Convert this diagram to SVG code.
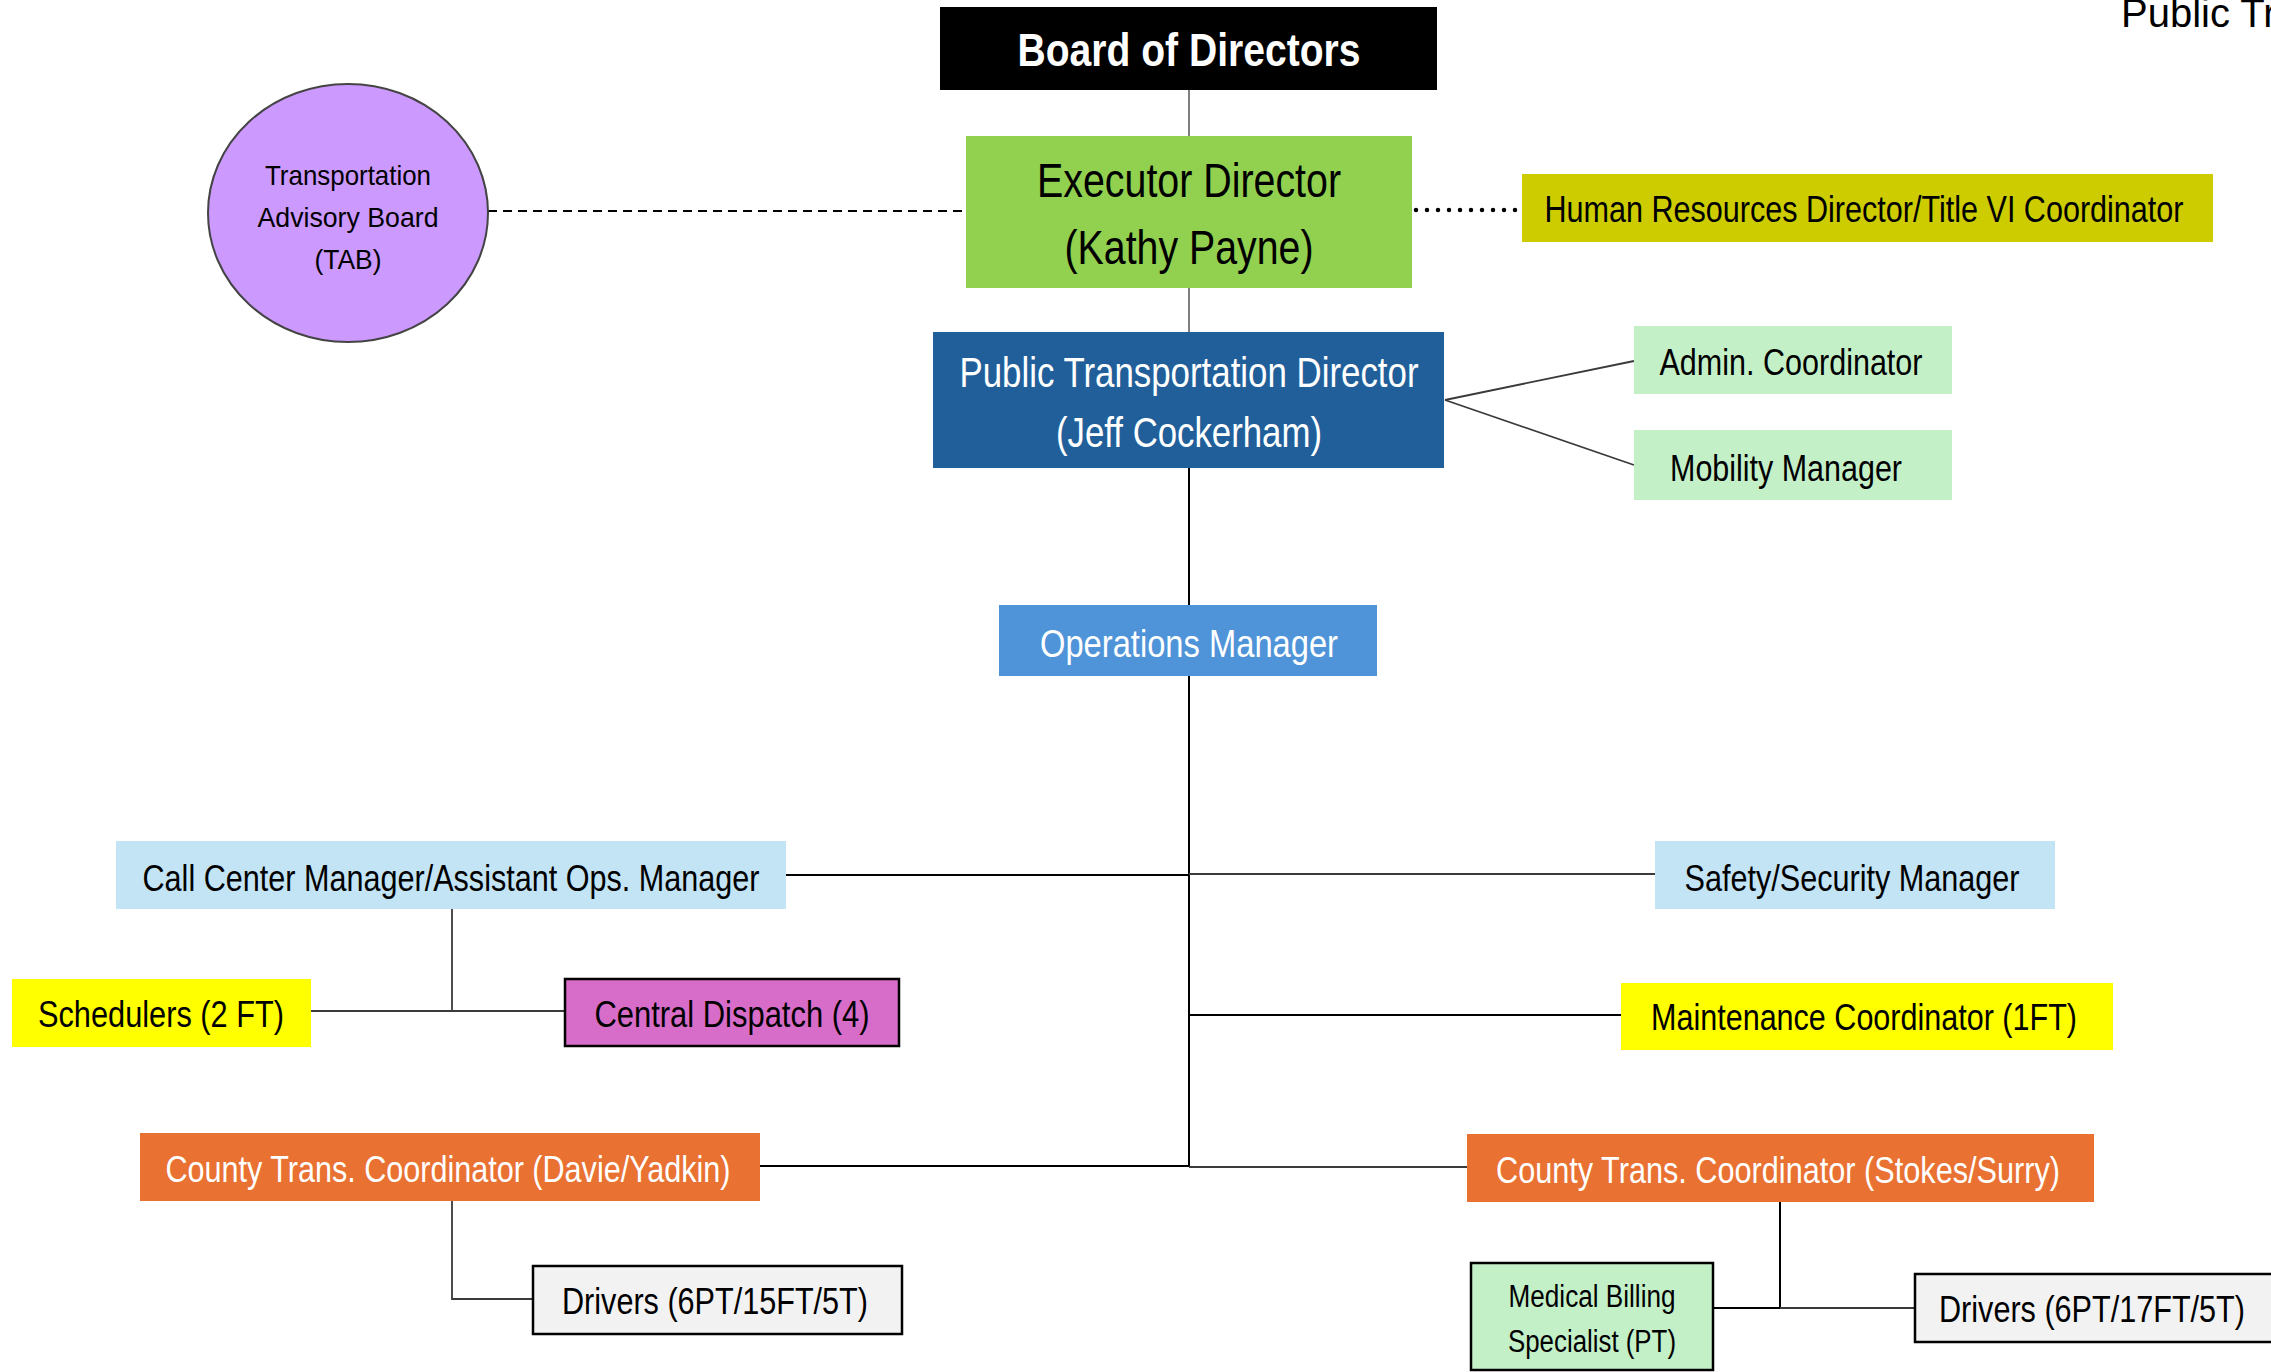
<svg xmlns="http://www.w3.org/2000/svg" width="2271" height="1372" viewBox="0 0 2271 1372">
<style>
text{font-family:"Liberation Sans Narrow","Liberation Sans",Arial,sans-serif;text-anchor:middle;}
.t37{font-size:37px;fill:#000;}
.w37{font-size:37px;fill:#fff;}
.ln{fill:none;stroke:#000;stroke-width:2;}
.lg{fill:none;stroke:#7f7f7f;stroke-width:2;}
.ld{fill:none;stroke:#3a3a3a;stroke-width:1.8;}
.bx{stroke:#000;stroke-width:2.5;}
</style>
<rect width="2271" height="1372" fill="#fff"/>
<g id="connectors">
<path class="lg" d="M1189 90V136"/>
<path class="lg" d="M1189 288V332"/>
<path class="ln" d="M1189 468V605"/>
<path class="ln" d="M1189 676V1167" stroke-width="2.5"/>
<path class="ln" d="M786 875H1189"/>
<path class="ld" d="M1189 874H1655" stroke="#6a6a6a"/>
<path class="ln" d="M1189 1015H1621"/>
<path class="ln" d="M760 1166H1189"/>
<path class="ld" d="M1189 1167H1467"/>
<path class="ld" d="M1445 400L1634 361"/>
<path class="ld" d="M1445 400L1634 465"/>
<path class="ld" d="M452 909V1011"/>
<path class="ld" d="M311 1011H565" stroke="#555"/>
<path class="ld" d="M452 1201V1299H533" stroke="#555"/>
<path class="ln" d="M1780 1202V1308M1713 1308H1780"/>
<path class="ld" d="M1780 1308H1915" stroke="#777" stroke-width="2.5"/>
<path class="ln" d="M488 211H966" stroke-dasharray="9 6"/>
<path d="M1416 210H1522" fill="none" stroke="#000" stroke-width="4.5" stroke-linecap="round" stroke-dasharray="0 11"/>
</g>
<g id="title"><text x="2121" y="27" font-size="40" style="text-anchor:start;font-family:'Liberation Sans',Arial,sans-serif">Public Tr</text></g>
<g id="board"><rect x="940" y="7" width="497" height="83" fill="#000"/><text x="1189" y="66" font-size="47" font-weight="bold" fill="#fff" textLength="343" lengthAdjust="spacingAndGlyphs">Board of Directors</text></g>
<g id="tab"><ellipse cx="348" cy="213" rx="140" ry="129" fill="#CC99FF" stroke="#444" stroke-width="2"/>
<text x="348" y="185" font-size="28" style="font-family:'Liberation Sans',Arial,sans-serif" textLength="166" lengthAdjust="spacingAndGlyphs">Transportation</text>
<text x="348" y="227" font-size="28" style="font-family:'Liberation Sans',Arial,sans-serif" textLength="181" lengthAdjust="spacingAndGlyphs">Advisory Board</text>
<text x="348" y="269" font-size="28" style="font-family:'Liberation Sans',Arial,sans-serif" textLength="67" lengthAdjust="spacingAndGlyphs">(TAB)</text></g>
<g id="exec"><rect x="966" y="136" width="446" height="152" fill="#92D050"/>
<text x="1189" y="197" font-size="48" textLength="304" lengthAdjust="spacingAndGlyphs">Executor Director</text>
<text x="1189" y="264" font-size="48" textLength="249" lengthAdjust="spacingAndGlyphs">(Kathy Payne)</text></g>
<g id="hr"><rect x="1522" y="174" width="691" height="68" fill="#CCCC00"/><text x="1864" y="222" class="t37" textLength="639" lengthAdjust="spacingAndGlyphs">Human Resources Director/Title VI Coordinator</text></g>
<g id="ptd"><rect x="933" y="332" width="511" height="136" fill="#215F9A"/>
<text x="1189" y="387" font-size="42" fill="#fff" textLength="459" lengthAdjust="spacingAndGlyphs">Public Transportation Director</text>
<text x="1189" y="447" font-size="42" fill="#fff" textLength="266" lengthAdjust="spacingAndGlyphs">(Jeff Cockerham)</text></g>
<g id="admin"><rect x="1634" y="326" width="318" height="68" fill="#C4F0C8"/><text x="1791" y="375" class="t37" textLength="263" lengthAdjust="spacingAndGlyphs">Admin. Coordinator</text></g>
<g id="mobility"><rect x="1634" y="430" width="318" height="70" fill="#C4F0C8"/><text x="1786" y="481" class="t37" textLength="232" lengthAdjust="spacingAndGlyphs">Mobility Manager</text></g>
<g id="ops"><rect x="999" y="605" width="378" height="71" fill="#4F94D8"/><text x="1189" y="657" font-size="38" fill="#fff" textLength="298" lengthAdjust="spacingAndGlyphs">Operations Manager</text></g>
<g id="callcenter"><rect x="116" y="841" width="670" height="68" fill="#C3E4F4"/><text x="451" y="891" class="t37" textLength="617" lengthAdjust="spacingAndGlyphs">Call Center Manager/Assistant Ops. Manager</text></g>
<g id="safety"><rect x="1655" y="841" width="400" height="68" fill="#C3E4F4"/><text x="1852" y="891" class="t37" textLength="335" lengthAdjust="spacingAndGlyphs">Safety/Security Manager</text></g>
<g id="schedulers"><rect x="12" y="979" width="299" height="68" fill="#FFFF00"/><text x="161" y="1027" class="t37" textLength="246" lengthAdjust="spacingAndGlyphs">Schedulers (2 FT)</text></g>
<g id="dispatch"><rect x="565" y="979" width="334" height="67" fill="#D86DC9" class="bx"/><text x="732" y="1027" class="t37" textLength="275" lengthAdjust="spacingAndGlyphs">Central Dispatch (4)</text></g>
<g id="maintenance"><rect x="1621" y="983" width="492" height="67" fill="#FFFF00"/><text x="1864" y="1030" class="t37" textLength="426" lengthAdjust="spacingAndGlyphs">Maintenance Coordinator (1FT)</text></g>
<g id="davie"><rect x="140" y="1133" width="620" height="68" fill="#E97132"/><text x="448" y="1182" class="w37" textLength="565" lengthAdjust="spacingAndGlyphs">County Trans. Coordinator (Davie/Yadkin)</text></g>
<g id="stokes"><rect x="1467" y="1134" width="627" height="68" fill="#E97132"/><text x="1778" y="1183" class="w37" textLength="564" lengthAdjust="spacingAndGlyphs">County Trans. Coordinator (Stokes/Surry)</text></g>
<g id="driversL"><rect x="533" y="1266" width="369" height="68" fill="#F2F2F2" class="bx"/><text x="715" y="1314" class="t37" textLength="306" lengthAdjust="spacingAndGlyphs">Drivers (6PT/15FT/5T)</text></g>
<g id="medical"><rect x="1471" y="1263" width="242" height="107" fill="#C4F0C8" class="bx"/>
<text x="1592" y="1307" font-size="31" textLength="167" lengthAdjust="spacingAndGlyphs">Medical Billing</text>
<text x="1592" y="1352" font-size="31" textLength="168" lengthAdjust="spacingAndGlyphs">Specialist (PT)</text></g>
<g id="driversR"><rect x="1915" y="1274" width="370" height="68" fill="#F2F2F2" class="bx"/><text x="2092" y="1322" class="t37" textLength="306" lengthAdjust="spacingAndGlyphs">Drivers (6PT/17FT/5T)</text></g>
</svg>
